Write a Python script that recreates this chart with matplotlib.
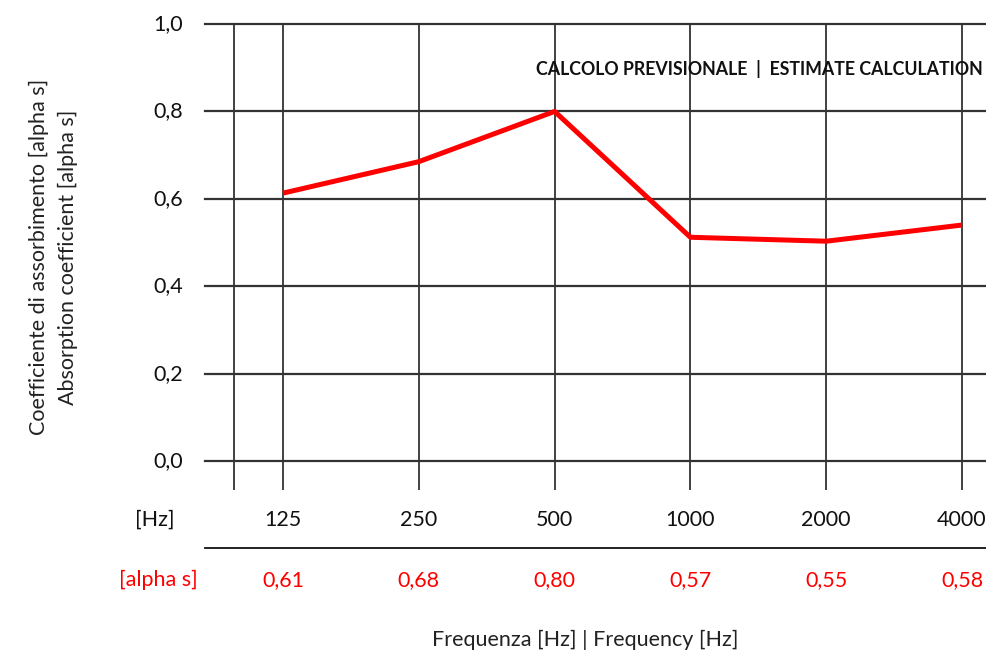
import matplotlib
matplotlib.use("Agg")
from matplotlib import pyplot as plt
from matplotlib.transforms import blended_transform_factory

plt.rcParams['font.family'] = ['Lato', 'DejaVu Sans']

freqs = ['125', '250', '500', '1000', '2000', '4000']
# values of the plotted curve
curve = [0.613, 0.685, 0.80, 0.512, 0.503, 0.54]
# values printed in the table under the chart
table_vals = ['0,61', '0,68', '0,80', '0,57', '0,55', '0,58']
yticks = [0.0, 0.2, 0.4, 0.6, 0.8, 1.0]
ytick_labels = ['0,0', '0,2', '0,4', '0,6', '0,8', '1,0']

fig = plt.figure(figsize=[9.87, 6.53], dpi=100)
ax = fig.add_axes([0.2077, 0.2496, 0.7923, 0.7136])
ax.set_xlim(-0.574, 5.184)
ax.set_ylim(-0.0664, 1.0)
for s in ax.spines.values():
    s.set_visible(False)
ax.set_xticks([])
ax.set_yticks([])

grid = '#333333'
for y in yticks:
    ax.axhline(y, color=grid, lw=1.6, clip_on=False, zorder=1)
xs = list(range(len(freqs)))
ax.vlines([-0.361] + xs, -0.0664, 1.0, color=grid, lw=1.3, zorder=1)

ax.plot(xs, curve, color='#ff0000', lw=3.6, zorder=3, solid_capstyle='butt')

fs = 15.5
# y tick labels
for y, lab in zip(yticks, ytick_labels):
    ax.text(-0.736, y, lab, ha='right', va='center', fontsize=fs, color='#111111')

fig.text(0.039, 0.606, 'Coefficiente di assorbimento [alpha s]', rotation=90,
         ha='center', va='center', fontsize=15.5, color='#222222')
fig.text(0.069, 0.606, 'Absorption coefficient [alpha s]', rotation=90,
         ha='center', va='center', fontsize=15.5, color='#222222')

fig.text(983 / 987, 0.894, 'CALCOLO PREVISIONALE  |  ESTIMATE CALCULATION', ha='right',
         va='center', fontsize=12.8, fontweight='bold', color='#111111')

# table beneath the plot
tr = blended_transform_factory(ax.transData, fig.transFigure)
fig.text(0.157, 0.2037, '[Hz]', ha='center', va='center', fontsize=fs, color='#111111')
fig.text(0.160, 0.1118, '[alpha s]', ha='center', va='center', fontsize=fs, color='#ff0000')
for i, (f, v) in enumerate(zip(freqs, table_vals)):
    ax.text(i, 0.2037, f, transform=tr, ha='center', va='center', fontsize=fs, color='#111111')
    ax.text(i, 0.1118, v, transform=tr, ha='center', va='center', fontsize=fs, color='#ff0000')
fig.add_artist(plt.Line2D([0.2077, 1.0], [0.1608, 0.1608], transform=fig.transFigure,
                          color='#111111', lw=1.3))

fig.text(0.5932, 0.0199, 'Frequenza [Hz] | Frequency [Hz]', ha='center', va='center',
         fontsize=fs, color='#222222')

fig.savefig('out.png', dpi=100)
